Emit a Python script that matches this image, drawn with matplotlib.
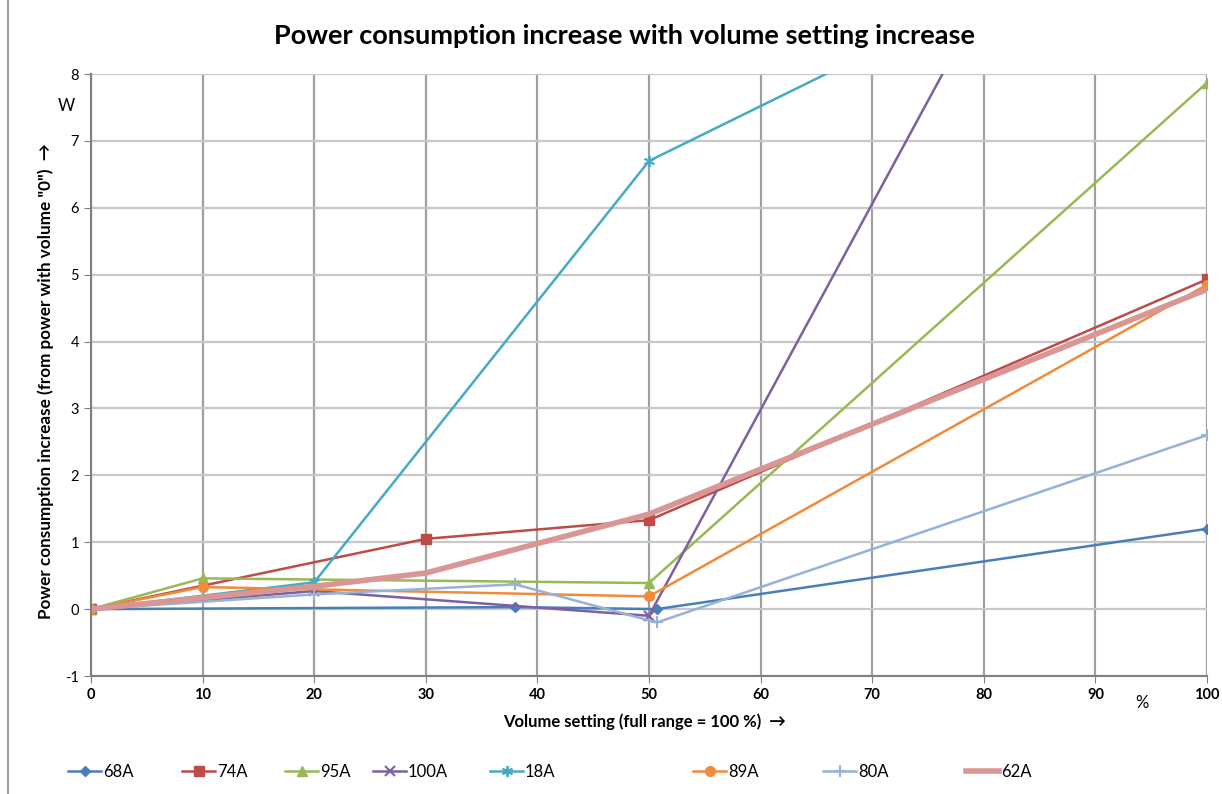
import matplotlib
matplotlib.use("Agg")
import matplotlib.pyplot as plt
from matplotlib.lines import Line2D

plt.rcParams['font.family'] = ['Lato', 'DejaVu Sans']

# ---- data ----
x_68A = [0, 38, 50.7, 100]
y_68A = [0, 0.03, 0.0, 1.2]

x_74A = [0, 30, 50, 100]
y_74A = [0, 1.05, 1.33, 4.93]

x_95A = [0, 10, 50, 100]
y_95A = [0, 0.46, 0.39, 7.87]

x_100A = [0, 20, 50, 100]
y_100A = [0, 0.27, -0.1, 15.3]

x_18A = [0, 20, 50, 100]
y_18A = [0, 0.4, 6.7, 10.8]

x_89A = [0, 10, 50, 100]
y_89A = [0, 0.33, 0.19, 4.85]

x_80A = [0, 20, 38, 50.7, 100]
y_80A = [0, 0.22, 0.37, -0.2, 2.6]

x_62A = [0, 20, 30, 50, 100]
y_62A = [0, 0.34, 0.54, 1.42, 4.78]

labels = ["68A", "74A", "95A", "100A", "18A", "89A", "80A", "62A"]
x_ticks = list(range(0, 101, 10))
y_ticks = list(range(-1, 9))

fig = plt.figure(figsize=(12.22, 7.94), dpi=100)
ax = fig.add_axes([91/1222, 1-676/794, (1207-91)/1222, (676-74)/794])

series = [
    (x_68A, y_68A, dict(color="#4a7ebb", marker="D", ms=5, lw=1.8)),
    (x_74A, y_74A, dict(color="#be4b48", marker="s", ms=7, lw=1.8)),
    (x_95A, y_95A, dict(color="#98b954", marker="^", ms=7, lw=1.8)),
    (x_100A, y_100A, dict(color="#7d60a0", marker="x", ms=7, mew=1.5, lw=1.8)),
    (x_18A, y_18A, dict(color="#46aac5", marker=(6, 2, 0), ms=8, mew=1.3, lw=1.8)),
    (x_89A, y_89A, dict(color="#f08a3c", marker="o", ms=7, lw=1.8)),
    (x_80A, y_80A, dict(color="#95b3d7", marker="+", ms=9, mew=1.5, lw=1.8)),
    (x_62A, y_62A, dict(color="#d99694", marker=None, lw=4.0)),
]
handles = []
for (xs, ys, st), lab in zip(series, labels):
    h, = ax.plot(xs, ys, label=lab, **st)
    handles.append(h)

ax.set_xlim(0, 100)
ax.set_ylim(-1, 8)
ax.set_xticks(x_ticks)
ax.set_yticks(y_ticks)
ax.set_xticklabels([str(t) for t in x_ticks], fontweight="bold", fontsize=10.5)
ax.set_yticklabels([str(t) for t in y_ticks], fontsize=10.5)
ax.tick_params(axis="both", colors="#808080", length=5, labelcolor="black")
ax.xaxis.grid(True, color="#a0a0a0", lw=1.6)
ax.yaxis.grid(True, color="#c8c8c8", lw=1.6)
ax.set_axisbelow(True)
for s in ["top", "right"]:
    ax.spines[s].set_visible(False)
for s in ["left", "bottom"]:
    ax.spines[s].set_color("#808080")
    ax.spines[s].set_linewidth(1.5)

fig.text(625/1222, 1-36/794, "Power consumption increase with volume setting increase",
         ha="center", va="center", fontsize=19.5, fontweight="bold")
fig.text(645/1222, 1-722/794, "Volume setting (full range = 100 %)  \u2192",
         ha="center", va="center", fontsize=12, fontweight="bold")
fig.text(46/1222, 1-381/794, "Power consumption increase (from power with volume \"0\")  \u2192",
         ha="center", va="center", rotation=90, fontsize=12.3, fontweight="bold")
fig.text(66/1222, 1-106/794, "W", ha="center", va="center", fontsize=12)
fig.text(1142/1222, 1-703/794, "%", ha="center", va="center", fontsize=12)

# left frame line of the chart area
fig.add_artist(Line2D([8/1222, 8/1222], [0, 1], color="#a0a0a0", lw=1.5))

leg_x = [68, 182, 285, 373, 490, 693, 823, 966]
for h, lx in zip(handles, leg_x):
    fig.legend(handles=[h], loc="center left", bbox_to_anchor=(lx/1222, 1-772/794),
               frameon=False, borderpad=0, borderaxespad=0, handlelength=2.0,
               handletextpad=0.1, fontsize=12)

fig.savefig("out.png", dpi=100)
